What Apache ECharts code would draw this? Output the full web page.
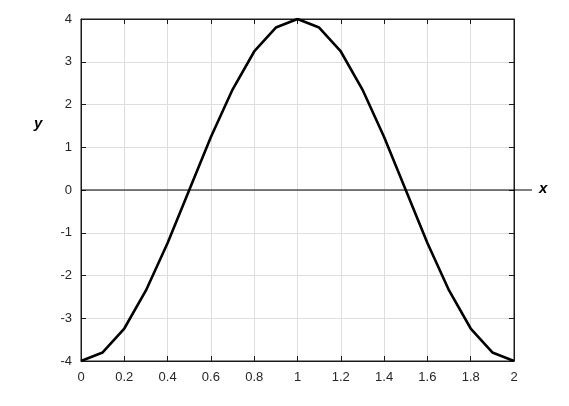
<!DOCTYPE html>
<html><head><meta charset="utf-8">
<script src="https://cdn.jsdelivr.net/npm/echarts@6/dist/echarts.min.js"></script>
<style>html,body{margin:0;padding:0;background:#fff}#c{width:569px;height:406px}</style>
</head><body><div id="c"></div>
<script>
const xValues = [0,0.1,0.2,0.3,0.4,0.5,0.6,0.7,0.8,0.9,1.0,1.1,1.2,1.3,1.4,1.5,1.6,1.7,1.8,1.9,2.0];
const yValues = [-4,-3.8,-3.24,-2.35,-1.24,0,1.24,2.35,3.24,3.8,4,3.8,3.24,2.35,1.24,0,-1.24,-2.35,-3.24,-3.8,-4];
const zeroLine = [[0,0],[1,0]];
const xName = 'x', yName = 'y';

const chart = echarts.init(document.getElementById('c'), null, {renderer:'canvas'});
const font = 'Liberation Sans, Arial, sans-serif';
const labelStyle = {color:'#262626', fontSize:13, fontFamily:font};
const grid0 = {left:81, right:55, top:19, bottom:45, show:true, borderColor:'#1a1a1a', borderWidth:1, backgroundColor:'#fff'};
const grid1 = {left:81, right:37, top:19, bottom:45, show:false};
chart.setOption({
  animation:false,
  grid:[grid0, grid1],
  xAxis:[
    {type:'value', gridIndex:0, min:0, max:2, interval:0.2, position:'bottom',
     axisLine:{show:true, onZero:false, lineStyle:{color:'#1a1a1a'}},
     axisTick:{show:true, inside:true, length:5, lineStyle:{color:'#1a1a1a'}},
     axisLabel:Object.assign({margin:10, formatter:v=>String(+v.toFixed(1))}, labelStyle),
     splitLine:{show:true, lineStyle:{color:'#dedede'}}},
    {type:'value', gridIndex:0, min:0, max:2, interval:0.2, position:'top',
     axisLine:{show:true, onZero:false, lineStyle:{color:'#1a1a1a'}},
     axisTick:{show:true, inside:true, length:5, lineStyle:{color:'#1a1a1a'}},
     axisLabel:{show:false}, splitLine:{show:false}},
    {type:'value', gridIndex:1, min:0, max:1, show:false}
  ],
  yAxis:[
    {type:'value', gridIndex:0, min:-4, max:4, interval:1, position:'left',
     axisLine:{show:true, onZero:false, lineStyle:{color:'#1a1a1a'}},
     axisTick:{show:true, inside:true, length:5, lineStyle:{color:'#1a1a1a'}},
     axisLabel:Object.assign({margin:9}, labelStyle),
     splitLine:{show:true, lineStyle:{color:'#dedede'}}},
    {type:'value', gridIndex:0, min:-4, max:4, interval:1, position:'right',
     axisLine:{show:true, onZero:false, lineStyle:{color:'#1a1a1a'}},
     axisTick:{show:true, inside:true, length:5, lineStyle:{color:'#1a1a1a'}},
     axisLabel:{show:false}, splitLine:{show:false}},
    {type:'value', gridIndex:1, min:-4, max:4, show:false}
  ],
  series:[
    {type:'line', xAxisIndex:2, yAxisIndex:2, data:zeroLine, symbol:'none', silent:true,
     lineStyle:{color:'#000', width:1}, z:3},
    {type:'line', xAxisIndex:0, yAxisIndex:0, data:xValues.map((x,i)=>[x,yValues[i]]),
     symbol:'none', lineStyle:{color:'#000', width:2.6}, z:4}
  ],
  graphic:[
    {type:'text', left:539, top:181, style:{text:xName, font:'italic bold 15px '+font, fill:'#000'}},
    {type:'text', left:34, top:116, style:{text:yName, font:'italic bold 15px '+font, fill:'#000'}}
  ]
});
</script></body></html>
